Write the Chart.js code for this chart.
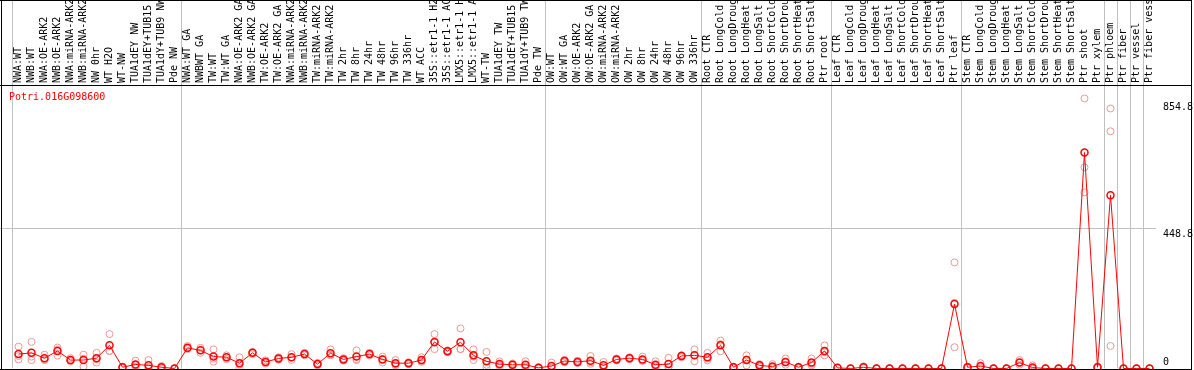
<!DOCTYPE html>
<html>
<head>
<meta charset="utf-8">
<title>Potri.016G098600</title>
<script src="https://cdn.jsdelivr.net/npm/chart.js@4.4.1/dist/chart.umd.min.js"></script>
<style>
  html, body { margin: 0; padding: 0; background: #fff; }
  #chart { display: block; }
</style>
</head>
<body>
<canvas id="chart" width="1194" height="370"></canvas>
<script>
// Sample names, left to right
const categories = [
  'NWA:WT', 'NWB:WT', 'NWA:OE-ARK2', 'NWB:OE-ARK2', 'NWA:miRNA-ARK2', 'NWB:miRNA-ARK2',
  'NW 0hr', 'WT H2O', 'WT-NW', 'TUA1dEY NW', 'TUA1dEY+TUB15 NW', 'TUA1dY+TUB9 NW', 'Pde NW',
  'NWA:WT GA', 'NWBWT GA', 'TW:WT', 'TW:WT GA', 'NWA:OE-ARK2 GA', 'NWB:OE-ARK2 GA',
  'TW:OE-ARK2', 'TW:OE-ARK2 GA', 'NWA:miRNA-ARK2', 'NWB:miRNA-ARK2', 'TW:miRNA-ARK2',
  'TW:miRNA-ARK2', 'TW 2hr', 'TW 8hr', 'TW 24hr', 'TW 48hr', 'TW 96hr', 'TW 336hr', 'WT ACC',
  '35S::etr1-1 H2O', '35S::etr1-1 ACC', 'LMX5::etr1-1 H2O', 'LMX5::etr1-1 ACC', 'WT-TW',
  'TUA1dEY TW', 'TUA1dEY+TUB15 TW', 'TUA1dY+TUB9 TW', 'Pde TW',
  'OW:WT', 'OW:WT GA', 'OW:OE-ARK2', 'OW:OE-ARK2 GA', 'OW:miRNA-ARK2', 'OW:miRNA-ARK2',
  'OW 2hr', 'OW 8hr', 'OW 24hr', 'OW 48hr', 'OW 96hr', 'OW 336hr',
  'Root CTR', 'Root LongCold', 'Root LongDrought', 'Root LongHeat', 'Root LongSalt',
  'Root ShortCold', 'Root ShortDrought', 'Root ShortHeat', 'Root ShortSalt', 'Ptr root',
  'Leaf CTR', 'Leaf LongCold', 'Leaf LongDrought', 'Leaf LongHeat', 'Leaf LongSalt',
  'Leaf ShortCold', 'Leaf ShortDrought', 'Leaf ShortHeat', 'Leaf ShortSalt', 'Ptr leaf',
  'Stem CTR', 'Stem LongCold', 'Stem LongDrought', 'Stem LongHeat', 'Stem LongSalt',
  'Stem ShortCold', 'Stem ShortDrought', 'Stem ShortHeat', 'Stem ShortSalt', 'Ptr shoot',
  'Ptr xylem', 'Ptr phloem', 'Ptr fiber', 'Ptr vessel', 'Ptr fiber vessel'
];

// Mean expression (red line)
const meanValues = [
  46, 50, 33, 56, 27, 27, 33, 74, 4, 13, 10, 4, 0,
  66, 58, 38, 36, 17, 50, 21, 32, 36, 46, 14, 49, 29, 38, 46, 29, 17, 17, 27,
  85, 55, 84, 42, 23, 14, 12, 12, 2,
  8, 24, 21, 25, 10, 29, 33, 29, 12, 14, 40, 42,
  36, 74, 4, 27, 10, 6, 21, 4, 19, 56,
  2, 0, 4, 0, 0, 0, 0, 0, 0, 206,
  4, 8, 0, 0, 19, 3, 0, 0, 0, 690, 4,
  554, 0, 0, 0
];

// Replicates (pale circles)
const rep1 = [
  70, 85, 44, 67, 33, 44, 50, 110, 6, 25, 27, 8, 0,
  72, 66, 61, 42, 36, 52, 26, 36, 46, 50, 18, 61, 33, 58, 50, 38, 27, 20, 36,
  110, 58, 128, 61, 53, 23, 16, 23, 4,
  19, 28, 25, 40, 21, 32, 36, 38, 23, 34, 42, 61,
  50, 89, 6, 42, 14, 14, 32, 6, 32, 74,
  3, 0, 7, 0, 0, 0, 0, 0, 0, 339,
  6, 17, 0, 0, 27, 10, 0, 0, 0, 863, 6,
  831, 0, 0, 0
];
const rep2 = [
  29, 27, 28, 41, 24, 6, 19, 56, 2, 4, 0, 0, 0,
  62, 50, 22, 30, 3, 46, 16, 28, 27, 42, 10, 44, 25, 27, 42, 19, 10, 14, 21,
  62, 52, 62, 27, 4, 8, 8, 6, 0,
  2, 20, 17, 20, 4, 26, 30, 25, 4, 3, 36, 23,
  26, 55, 2, 10, 6, 2, 12, 2, 10, 42,
  1, 0, 2, 0, 0, 0, 0, 0, 0, 68,
  2, 3, 0, 0, 12, 0, 0, 0, 0, 643, 2,
  758, 0, 0, 0
];
const rep3 = [
  40, 38, 27, 60, 24, 31, 30, 56, 4, 10, 3, 4, 0,
  64, 58, 31, 36, 12, 52, 21, 32, 35, 46, 14, 42, 29, 29, 46, 30, 14, 17, 24,
  83, 55, 62, 38, 12, 11, 12, 7, 2,
  3, 24, 21, 15, 5, 29, 33, 24, 9, 5, 42, 42,
  32, 78, 4, 29, 10, 2, 19, 4, 15, 52,
  2, 0, 3, 0, 0, 0, 0, 0, 0, 210,
  4, 4, 0, 0, 18, 0, 0, 0, 0, 563, 4,
  72, 0, 0, 0
];

// Right axis tick values
const yTicks = [0, 448.8, 854.8];
const yMax = 906;

// Index of the first sample in each tissue group (grey separators)
const groupBreaks = [0, 13, 41, 53, 63, 73, 84, 85, 86, 87, 88];

const geneName = 'Potri.016G098600';

const MONO = '"DejaVu Sans Mono", "Liberation Mono", monospace';
const GRID_GREY = '#c0c0c0';

// Frame, header line and title drawn after the chart
const framePlugin = {
  id: 'frame',
  afterDraw(chart) {
    const { ctx, chartArea, scales } = chart;
    const W = chart.width;
    ctx.save();

    // horizontal grid line continues to the left edge
    const yMid = Math.round(scales.y.getPixelForValue(yTicks[1])) + 0.5;
    ctx.strokeStyle = GRID_GREY;
    ctx.lineWidth = 1;
    ctx.beginPath();
    ctx.moveTo(0, yMid);
    ctx.lineTo(chartArea.left, yMid);
    ctx.stroke();

    ctx.strokeStyle = '#000';
    ctx.beginPath();
    ctx.moveTo(1.5, 0);
    ctx.lineTo(1.5, chart.height);
    ctx.moveTo(0, 0.5);
    ctx.lineTo(W - 2, 0.5);
    ctx.moveTo(W - 2.5, 0);
    ctx.lineTo(W - 2.5, chartArea.bottom + 1);
    ctx.moveTo(0, chartArea.top + 0.5);
    ctx.lineTo(W - 2, chartArea.top + 0.5);
    ctx.moveTo(0, Math.round(chartArea.bottom) + 0.5);
    ctx.lineTo(W - 2, Math.round(chartArea.bottom) + 0.5);
    ctx.stroke();

    // gene name
    ctx.fillStyle = '#ff0000';
    ctx.font = '10px ' + MONO;
    ctx.textBaseline = 'middle';
    ctx.textAlign = 'left';
    ctx.fillText(geneName, 9, chartArea.top + 12);
    ctx.restore();
  }
};

const repStyle = {
  showLine: false,
  pointRadius: 3.5,
  pointBorderWidth: 1,
  pointBorderColor: 'rgb(240,150,150)',
  pointBackgroundColor: 'rgba(0,0,0,0)',
  clip: false,
  order: 1
};

new Chart(document.getElementById('chart'), {
  type: 'line',
  data: {
    labels: categories,
    datasets: [
      {
        label: 'mean',
        data: meanValues,
        borderColor: '#ff0000',
        borderWidth: 1,
        tension: 0,
        pointRadius: 3.5,
        pointBorderWidth: 1.5,
        pointBorderColor: '#ff0000',
        pointBackgroundColor: 'rgba(0,0,0,0)',
        clip: false,
        order: 0
      },
      { label: 'rep1', data: rep1, ...repStyle },
      { label: 'rep2', data: rep2, ...repStyle },
      { label: 'rep3', data: rep3, ...repStyle }
    ]
  },
  options: {
    responsive: false,
    animation: false,
    layout: { autoPadding: false, padding: { left: 12, right: 0, top: 0, bottom: 1.5 } },
    plugins: {
      legend: { display: false },
      tooltip: { enabled: false }
    },
    scales: {
      x: {
        type: 'category',
        position: 'top',
        offset: true,
        border: { display: false },
        grid: {
          offset: true,
          tickLength: 85,
          lineWidth: 1,
          color: (c) => groupBreaks.includes(c.index) ? GRID_GREY : 'rgba(0,0,0,0)'
        },
        ticks: {
          autoSkip: false,
          minRotation: 90,
          maxRotation: 90,
          padding: -83,
          labelOffset: 12,
          color: '#000',
          font: { family: MONO, size: 10 }
        },
        afterFit(scale) {
          scale.height = 85;
          scale.paddingLeft = 0;
          scale.paddingRight = 0;
        }
      },
      y: {
        position: 'right',
        min: 0,
        max: yMax,
        border: { display: false },
        afterBuildTicks(scale) {
          scale.ticks = yTicks.map(v => ({ value: v }));
        },
        grid: {
          drawTicks: false,
          color: (c) => (c.tick && c.tick.value === yTicks[1]) ? GRID_GREY : 'rgba(0,0,0,0)'
        },
        ticks: {
          padding: 7,
          color: '#000',
          font: { family: MONO, size: 10 },
          // shift labels half a line, as in the source plot
          callback: (v) => {
            if (v === 0) return ['0', ''];
            return ['', String(v)];
          }
        },
        afterFit(scale) {
          scale.width = 38;
          scale.paddingTop = 0;
          scale.paddingBottom = 0;
        }
      }
    }
  },
  plugins: [framePlugin]
});
</script>
</body>
</html>
